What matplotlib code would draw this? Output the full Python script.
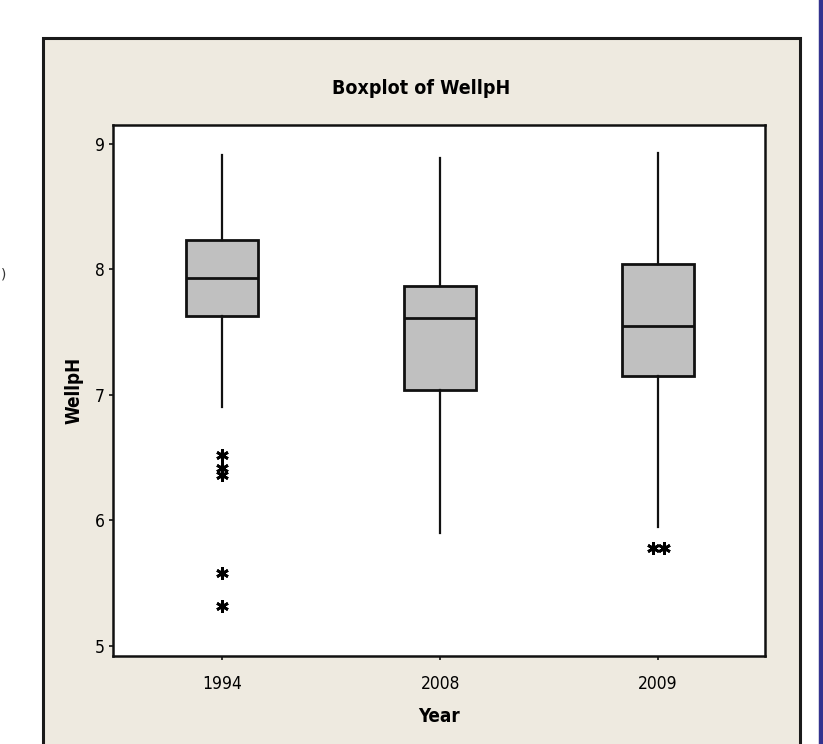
import matplotlib
matplotlib.use("Agg")
import matplotlib.pyplot as plt
from matplotlib.patches import Rectangle
import numpy as np

# Summary statistics of well pH per sampling year
years = ["1994", "2008", "2009"]
whisker_low = [6.90, 5.90, 5.95]
q1 = [7.63, 7.04, 7.15]
median = [7.93, 7.61, 7.55]
q3 = [8.23, 7.87, 8.04]
whisker_high = [8.91, 8.89, 8.93]
outliers = [
    [6.52, 6.42, 6.36, 5.58, 5.32],
    [],
    [5.78, 5.78],
]

W, H = 823, 744
fig = plt.figure(figsize=(W / 100, H / 100), dpi=100)
fig.patch.set_facecolor("white")

font = dict(family="DejaVu Sans", stretch="condensed")

# beige graph panel behind the plot
panel = Rectangle((43 / W, -0.05), (800 - 43) / W, 1.05 - 38 / H,
                  transform=fig.transFigure, facecolor="#EEEAE0",
                  edgecolor="#1a1a1a", linewidth=2.2, zorder=-1)
fig.patches.append(panel)

# slide edge on the right
fig.add_artist(plt.Line2D([820.5 / W, 820.5 / W], [0, 1], transform=fig.transFigure,
                          color="#33338f", linewidth=3.2))
fig.text(0.5 / W, 1 - 275 / H, ")", fontsize=10, ha="left", va="center", color="#333333")

ax = fig.add_axes([113 / W, 1 - 656 / H, (765 - 113) / W, (656 - 125) / H])
ax.set_zorder(2)
ax.set_facecolor("white")

stats = []
for i, y in enumerate(years):
    stats.append(dict(label=y, med=median[i], q1=q1[i], q3=q3[i],
                      whislo=whisker_low[i], whishi=whisker_high[i], fliers=[]))

positions = np.arange(1, len(years) + 1)
ax.bxp(stats, positions=positions, widths=0.33, patch_artist=True, showcaps=False,
       boxprops=dict(facecolor="#c0c0c0", edgecolor="#111111", linewidth=2.0),
       medianprops=dict(color="#111111", linewidth=2.0),
       whiskerprops=dict(color="#111111", linewidth=1.6))

# outliers drawn as asterisks, tied values placed side by side
for pos, vals in zip(positions, outliers):
    vals = np.array(vals)
    for v in np.unique(vals):
        n = int(np.sum(vals == v))
        offs = (np.arange(n) - (n - 1) / 2) * 0.05
        ax.plot(pos + offs, [v] * n, linestyle="none", marker=(6, 2, 0),
                markersize=9, markeredgewidth=2.0, color="black")

ax.set_xlim(0.5, 3.49)
ax.set_ylim(4.92, 9.15)
ax.set_yticks([5, 6, 7, 8, 9])
ax.set_xticks(positions)
ax.set_xticklabels(years)
for lbl in ax.get_xticklabels() + ax.get_yticklabels():
    lbl.set_family(font["family"])
    lbl.set_stretch(font["stretch"])
    lbl.set_fontsize(12.5)
ax.tick_params(direction="out", length=3, width=1.2, color="#111111")
ax.tick_params(axis="x", pad=11)
ax.tick_params(axis="y", pad=3)
for s in ax.spines.values():
    s.set_linewidth(1.8)
    s.set_color("#111111")

ax.set_xlabel("Year", fontsize=13.5, fontweight="bold", **font)
ax.set_ylabel("WellpH", fontsize=13.5, fontweight="bold", **font)
ax.xaxis.set_label_coords(0.5, -(717 - 656) / (656 - 125), transform=ax.transAxes)
ax.yaxis.set_label_coords((74 - 113) / (765 - 113), 0.5, transform=ax.transAxes)
ax.xaxis.label.set_va("center")
ax.yaxis.label.set_va("center")
fig.text(421 / W, 1 - 88 / H, "Boxplot of WellpH", fontsize=14, fontweight="bold",
         ha="center", va="center", **font)

fig.savefig("out.png", dpi=100)
